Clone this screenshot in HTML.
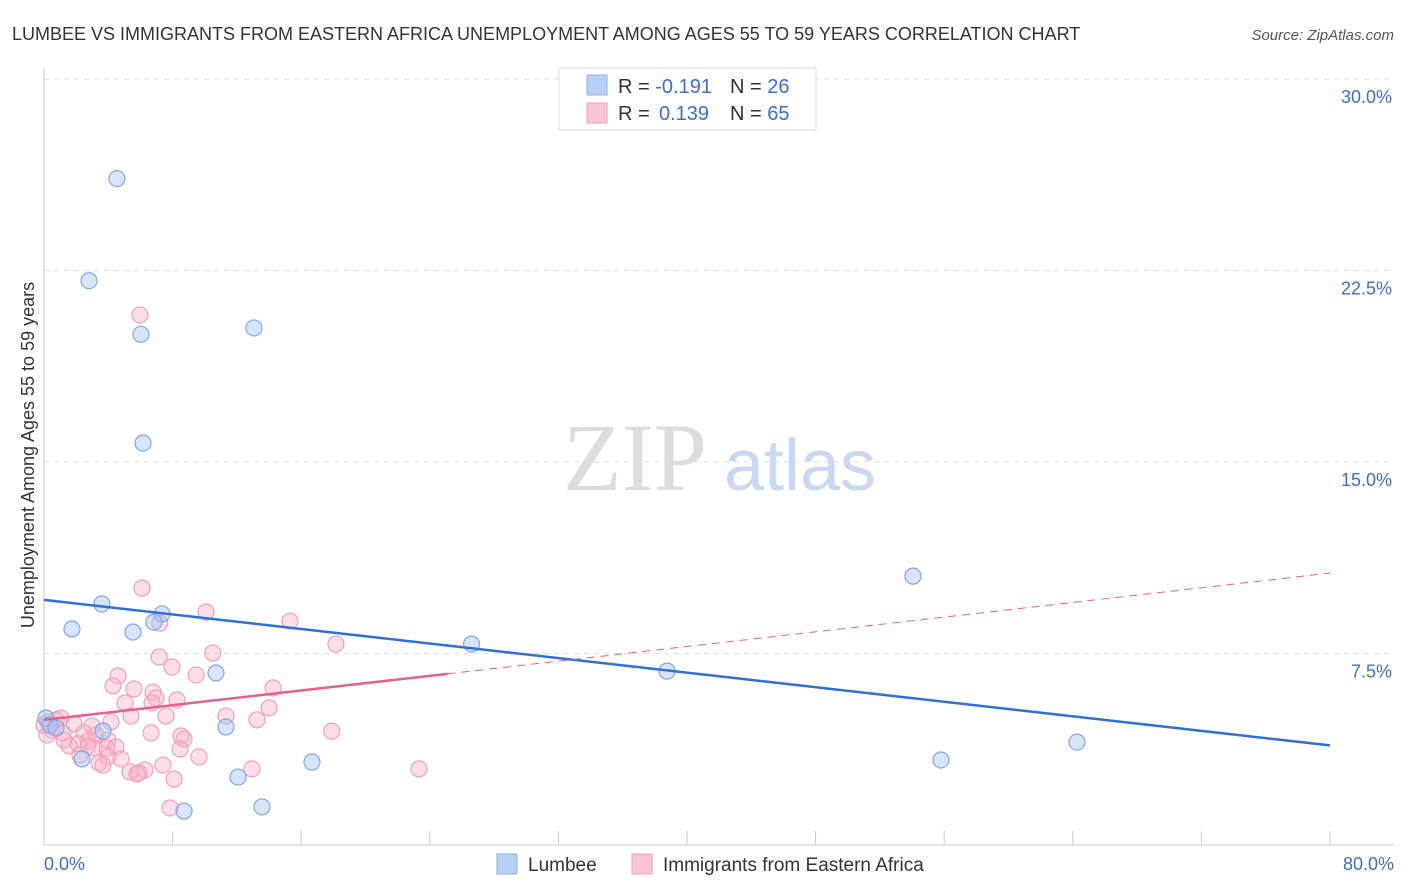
<!DOCTYPE html>
<html><head><meta charset="utf-8"><style>
body{margin:0;background:#fff;font-family:"Liberation Sans",sans-serif;}
svg{display:block}
</style></head><body>
<svg id="c" width="1406" height="892" font-family="Liberation Sans, sans-serif">
<text x="12" y="40" font-size="18" fill="#333">LUMBEE VS IMMIGRANTS FROM EASTERN AFRICA UNEMPLOYMENT AMONG AGES 55 TO 59 YEARS CORRELATION CHART</text>
<text x="1394" y="40" font-size="15" fill="#555" font-style="italic" text-anchor="end">Source: ZipAtlas.com</text>
<text x="34" y="455" font-size="18" fill="#333" text-anchor="middle" transform="rotate(-90 34 455)">Unemployment Among Ages 55 to 59 years</text>
<g><text x="635" y="490" font-size="96" font-family="Liberation Serif, serif" fill="#ddd" text-anchor="middle">ZIP</text><text x="800" y="490" font-size="72" fill="#c9d9f2" text-anchor="middle">atlas</text></g>
<g id="grid"></g><g id="axes"></g><g id="pts"></g><g id="lines"></g>
<g>
<rect x="559" y="68" width="257" height="62" fill="#fff" stroke="#ddd"/>
<rect x="587" y="75" width="20" height="20" fill="#b8d0f5" stroke="#8ab4e8"/>
<rect x="587" y="103" width="20" height="20" fill="#fac3d3" stroke="#f0a0bb"/>
<text x="618" y="93" font-size="20" fill="#333">R = <tspan fill="#3a6fd0">-0.191</tspan><tspan x="730">N = </tspan><tspan fill="#3a6fd0">26</tspan></text>
<text x="618" y="120" font-size="20" fill="#333">R = <tspan fill="#3a6fd0" x="659">0.139</tspan><tspan x="730">N = </tspan><tspan fill="#3a6fd0">65</tspan></text>
</g>
<g>
<rect x="497" y="854" width="20" height="20" fill="#b8d0f5" stroke="#8ab4e8"/>
<text x="528" y="871" font-size="19" fill="#333">Lumbee</text>
<rect x="632" y="854" width="20" height="20" fill="#fac3d3" stroke="#f0a0bb"/>
<text x="663" y="871" font-size="19" fill="#333">Immigrants from Eastern Africa</text>
</g>
</svg>
<script>
const yTicks=[7.5,15,22.5,30];
const xTickLabels=["0.0%","80.0%"];
const blueX=[4.54,2.8,6.03,13.06,6.16,54.06,3.6,1.74,5.54,7.34,6.84,26.6,38.76,10.7,64.26,11.32,3.67,2.36,16.67,55.8,12.07,13.56,8.71,0.12,0.37,0.75];
const blueY=[26.1,22.1,20.0,20.25,15.74,10.53,9.44,8.46,8.34,9.05,8.73,7.87,6.81,6.74,4.03,4.62,4.46,3.37,3.25,3.33,2.66,1.49,1.33,4.97,4.70,4.58];
const pinkX=[5.97,6.1,10.08,15.3,7.2,18.16,10.5,7.16,7.96,4.6,9.46,4.29,14.25,5.6,6.78,8.27,6.97,5.04,6.72,14.0,5.41,7.59,11.32,13.25,4.17,1.87,2.99,1.06,0.25,0.5,1.18,17.9,2.49,3.23,6.66,8.52,8.71,3.98,2.74,2.12,4.48,3.11,1.56,8.46,2.24,9.64,3.98,4.79,3.42,7.4,3.67,12.94,23.33,6.28,5.35,5.9,8.09,7.84,0,0.75,0.19,1.24,2.74,5.79,3.92];
const pinkY=[20.76,10.06,9.12,8.77,8.69,7.87,7.52,7.36,6.97,6.62,6.66,6.23,6.15,6.11,5.99,5.68,5.76,5.56,5.56,5.37,5.05,5.05,5.05,4.9,4.82,4.74,4.66,4.97,4.82,4.5,4.39,4.46,4.39,4.31,4.39,4.27,4.15,4.11,4.07,3.96,3.84,3.8,3.88,3.76,3.52,3.45,3.45,3.37,3.21,3.13,3.13,2.98,2.98,2.94,2.86,2.82,2.58,1.45,4.7,4.9,4.31,4.11,3.88,2.78,3.8];
const blueTrend=[9.6,3.9];
const pinkTrend=[4.9,10.65];
const pinkSolidEnd=25.1;
const X=v=>44+v/80*1286, Y=v=>845-v/7.5*191.5;
const NS="http://www.w3.org/2000/svg";
function mk(tag,attrs,parent){const e=document.createElementNS(NS,tag);for(const k in attrs)e.setAttribute(k,attrs[k]);document.getElementById(parent).appendChild(e);return e;}
yTicks.forEach(t=>{
 const l=mk('line',{x1:44,x2:1394,y1:Y(t),y2:Y(t),stroke:'#ddd','stroke-dasharray':'5,5'},'grid');
 
 
 const tx=mk('text',{x:1392,y:Y(t)+24,'font-size':18,fill:'#3a6fd0','text-anchor':'end'},'grid');
 tx.textContent=t.toFixed(1)+'%';
 
 
});
const ax=mk('line',{x1:44,x2:1394,y1:845,y2:845,stroke:'#ccc'},'axes');


const ay=mk('line',{x1:44,x2:44,y1:68,y2:845,stroke:'#ccc'},'axes');


for(let i=0;i<=10;i++){const t=mk('line',{x1:X(i*8),x2:X(i*8),y1:831,y2:845,stroke:'#ccc'},'axes');
 
 }
[[0,'start',44],[80,'end',1394]].forEach((d,i)=>{const t=mk('text',{x:d[2],y:870,'font-size':18,fill:'#3a6fd0','text-anchor':d[1]},'axes');t.textContent=xTickLabels[i];
 
 });
pinkX.forEach((x,i)=>{const c=mk('circle',{cx:X(x),cy:Y(pinkY[i]),r:8,fill:'rgba(247,175,200,0.4)',stroke:'#f0a0bb','stroke-width':1.2},'pts');
 
 });
blueX.forEach((x,i)=>{const c=mk('circle',{cx:X(x),cy:Y(blueY[i]),r:8,fill:'rgba(165,198,242,0.45)',stroke:'#7fa9e3','stroke-width':1.2},'pts');
 
 });
const bl=mk('line',{x1:X(0),y1:Y(blueTrend[0]),x2:X(80),y2:Y(blueTrend[1]),stroke:'#2f6fd6','stroke-width':2.5},'lines');


const pf=v=>pinkTrend[0]+(pinkTrend[1]-pinkTrend[0])*v/80;
const pd=mk('line',{x1:X(pinkSolidEnd),y1:Y(pf(pinkSolidEnd)),x2:X(80),y2:Y(pinkTrend[1]),stroke:'#e8608a','stroke-width':1,'stroke-dasharray':'8,6'},'lines');


const ps=mk('line',{x1:X(0),y1:Y(pinkTrend[0]),x2:X(pinkSolidEnd),y2:Y(pf(pinkSolidEnd)),stroke:'#e8608a','stroke-width':2.5},'lines');


</script>
</body></html>
